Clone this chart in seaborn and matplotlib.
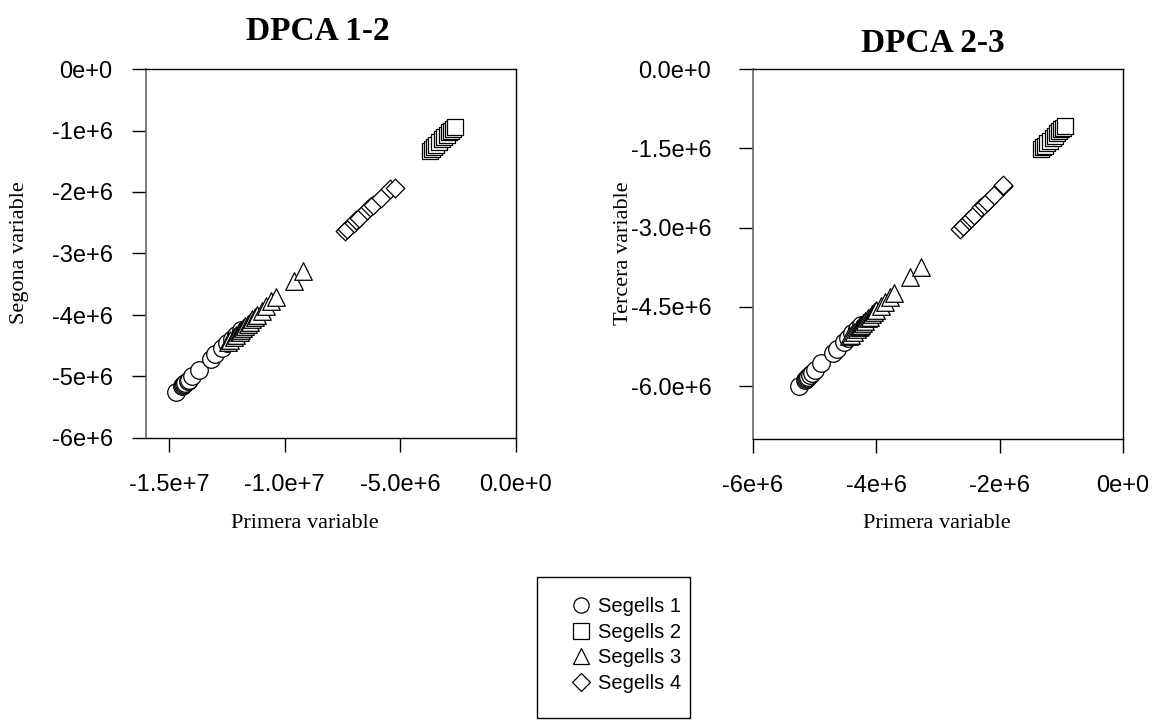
import matplotlib
matplotlib.use("Agg")
import matplotlib.pyplot as plt
import seaborn as sns
import pandas as pd
from matplotlib.lines import Line2D
from matplotlib.patches import Rectangle
from matplotlib.ticker import FixedLocator, FixedFormatter

# Scores of each seed group on the first three DPCA variables
groups = ["Segells 1", "Segells 2", "Segells 3", "Segells 4"]

primera_1 = [-1.47e7, -1.445e7, -1.44e7, -1.435e7, -1.43e7, -1.42e7, -1.415e7, -1.40e7,
             -1.37e7, -1.32e7, -1.30e7, -1.27e7, -1.25e7, -1.23e7, -1.21e7, -1.19e7]
segona_1 = [-5.25e6, -5.16e6, -5.14e6, -5.12e6, -5.11e6, -5.07e6, -5.05e6, -5.00e6,
            -4.89e6, -4.71e6, -4.64e6, -4.53e6, -4.46e6, -4.39e6, -4.32e6, -4.25e6]
tercera_1 = [-5.99e6, -5.88e6, -5.86e6, -5.84e6, -5.83e6, -5.78e6, -5.76e6, -5.70e6,
             -5.57e6, -5.37e6, -5.29e6, -5.16e6, -5.08e6, -5.00e6, -4.92e6, -4.85e6]

primera_2 = [-3.72e6, -3.65e6, -3.55e6, -3.45e6, -3.35e6, -3.20e6, -3.10e6, -3.00e6,
             -2.90e6, -2.80e6, -2.72e6, -2.65e6]
segona_2 = [-1.33e6, -1.30e6, -1.27e6, -1.23e6, -1.19e6, -1.14e6, -1.11e6, -1.07e6,
            -1.03e6, -1.00e6, -0.97e6, -0.94e6]
tercera_2 = [-1.52e6, -1.48e6, -1.45e6, -1.40e6, -1.36e6, -1.30e6, -1.27e6, -1.22e6,
             -1.18e6, -1.14e6, -1.11e6, -1.07e6]

primera_3 = [-1.245e7, -1.235e7, -1.22e7, -1.21e7, -1.20e7, -1.195e7, -1.19e7, -1.18e7,
             -1.17e7, -1.16e7, -1.15e7, -1.14e7, -1.13e7, -1.12e7, -1.10e7, -1.08e7,
             -1.06e7, -1.04e7, -9.6e6, -9.2e6]
segona_3 = [-4.44e6, -4.41e6, -4.36e6, -4.32e6, -4.28e6, -4.27e6, -4.25e6, -4.21e6,
            -4.18e6, -4.14e6, -4.11e6, -4.07e6, -4.03e6, -4.00e6, -3.93e6, -3.86e6,
            -3.78e6, -3.71e6, -3.45e6, -3.28e6]
tercera_3 = [-5.06e6, -5.03e6, -4.97e6, -4.92e6, -4.88e6, -4.87e6, -4.85e6, -4.80e6,
             -4.77e6, -4.72e6, -4.69e6, -4.64e6, -4.59e6, -4.56e6, -4.48e6, -4.40e6,
             -4.31e6, -4.23e6, -3.93e6, -3.74e6]

primera_4 = [-7.40e6, -7.30e6, -7.00e6, -6.90e6, -6.80e6, -6.45e6, -6.30e6, -6.20e6,
             -5.85e6, -5.45e6, -5.25e6]
segona_4 = [-2.64e6, -2.60e6, -2.50e6, -2.46e6, -2.42e6, -2.30e6, -2.25e6, -2.21e6,
            -2.09e6, -1.95e6, -1.94e6]
tercera_4 = [-3.02e6, -2.97e6, -2.85e6, -2.81e6, -2.76e6, -2.62e6, -2.57e6, -2.52e6,
             -2.38e6, -2.22e6, -2.20e6]

# Tick positions and labels
x1_ticks = [-1.5e7, -1.0e7, -5.0e6, 0.0]
x1_labels = ["-1.5e+7", "-1.0e+7", "-5.0e+6", "0.0e+0"]
y1_ticks = [0.0, -1e6, -2e6, -3e6, -4e6, -5e6, -6e6]
y1_labels = ["0e+0", "-1e+6", "-2e+6", "-3e+6", "-4e+6", "-5e+6", "-6e+6"]
x2_ticks = [-6e6, -4e6, -2e6, 0.0]
x2_labels = ["-6e+6", "-4e+6", "-2e+6", "0e+0"]
y2_ticks = [0.0, -1.5e6, -3.0e6, -4.5e6, -6.0e6]
y2_labels = ["0.0e+0", "-1.5e+6", "-3.0e+6", "-4.5e+6", "-6.0e+6"]

frames = []
for g, p, s, t in zip(groups,
                      [primera_1, primera_2, primera_3, primera_4],
                      [segona_1, segona_2, segona_3, segona_4],
                      [tercera_1, tercera_2, tercera_3, tercera_4]):
    frames.append(pd.DataFrame({"grup": g, "primera": p, "segona": s, "tercera": t}))
df = pd.concat(frames, ignore_index=True)

markers = {"Segells 1": "o", "Segells 2": "s", "Segells 3": "^", "Segells 4": "D"}
sizes = {"Segells 1": 160, "Segells 2": 125, "Segells 3": 160, "Segells 4": 90}

sns.set_theme(style="white")
plt.rcParams["font.family"] = ["Liberation Sans", "DejaVu Sans"]
plt.rcParams["text.color"] = "black"
plt.rcParams["axes.labelcolor"] = "black"
serif = ["Liberation Serif", "DejaVu Serif"]

W, H = 1158, 724
fig = plt.figure(figsize=(W / 100, H / 100), dpi=100)
ax1 = fig.add_axes([146 / W, 1 - 438 / H, 370 / W, 369 / H])
ax2 = fig.add_axes([753 / W, 1 - 439 / H, 370 / W, 370 / H])


def draw(ax, xcol, ycol):
    for g in groups:
        sub = df[df["grup"] == g]
        sns.scatterplot(data=sub, x=xcol, y=ycol, ax=ax, marker=markers[g],
                        s=sizes[g], facecolor="white", edgecolor="black",
                        linewidth=0.9, legend=False, zorder=3)


draw(ax1, "primera", "segona")
draw(ax2, "segona", "tercera")

ax1.set_xlim(-1.6e7, 0)
ax1.set_ylim(-6e6, 0)
ax2.set_xlim(-6e6, 0)
ax2.set_ylim(-7e6, 0)

for ax, xt, xl, yt, yl, ypad in [(ax1, x1_ticks, x1_labels, y1_ticks, y1_labels, 14),
                                 (ax2, x2_ticks, x2_labels, y2_ticks, y2_labels, 20)]:
    ax.xaxis.set_major_locator(FixedLocator(xt))
    ax.xaxis.set_major_formatter(FixedFormatter(xl))
    ax.yaxis.set_major_locator(FixedLocator(yt))
    ax.yaxis.set_major_formatter(FixedFormatter(yl))
    ax.tick_params(axis="both", direction="out", length=10, width=1.0,
                   color="black", labelsize=17, labelcolor="black")
    ax.tick_params(axis="x", bottom=True, pad=16)
    ax.tick_params(axis="y", left=True, pad=ypad)
    for side in ["top", "right", "bottom"]:
        ax.spines[side].set_color("black")
        ax.spines[side].set_linewidth(1.0)
    ax.spines["left"].set_color("#666666")
    ax.spines["left"].set_linewidth(1.2)
    ax.set_xlabel("")
    ax.set_ylabel("")
    ax.grid(False)

# Titles and axis labels
fig.text(318 / W, 1 - 31 / H, "DPCA 1-2", ha="center", va="center",
         family=serif, fontsize=24, fontweight="bold")
fig.text(933 / W, 1 - 43 / H, "DPCA 2-3", ha="center", va="center",
         family=serif, fontsize=24, fontweight="bold")
fig.text(305 / W, 1 - 523 / H, "Primera variable", ha="center", va="center",
         family=serif, fontsize=16)
fig.text(937 / W, 1 - 523 / H, "Primera variable", ha="center", va="center",
         family=serif, fontsize=16)
fig.text(20 / W, 1 - 253 / H, "Segona variable", ha="center", va="center",
         family=serif, fontsize=16, rotation=90)
fig.text(624 / W, 1 - 253 / H, "Tercera variable", ha="center", va="center",
         family=serif, fontsize=16, rotation=90)

# Shared legend with a plain rectangular frame
handles = [Line2D([], [], linestyle="none", marker=markers[g],
                  markersize=11 if g != "Segells 4" else 9,
                  markerfacecolor="white", markeredgecolor="black", markeredgewidth=0.9,
                  label=g) for g in groups]
fig.legend(handles=handles, loc="center left", bbox_to_anchor=(570 / W, 1 - 645 / H),
           frameon=False, fontsize=14.5, handletextpad=0.3, labelspacing=0.33,
           borderpad=0, handlelength=1.1, borderaxespad=0)
fig.patches.append(Rectangle((537 / W, 1 - 718 / H), 153 / W, 141 / H,
                             transform=fig.transFigure, fill=False,
                             edgecolor="black", linewidth=1.0))

fig.savefig("out.png", dpi=100, facecolor="white")
